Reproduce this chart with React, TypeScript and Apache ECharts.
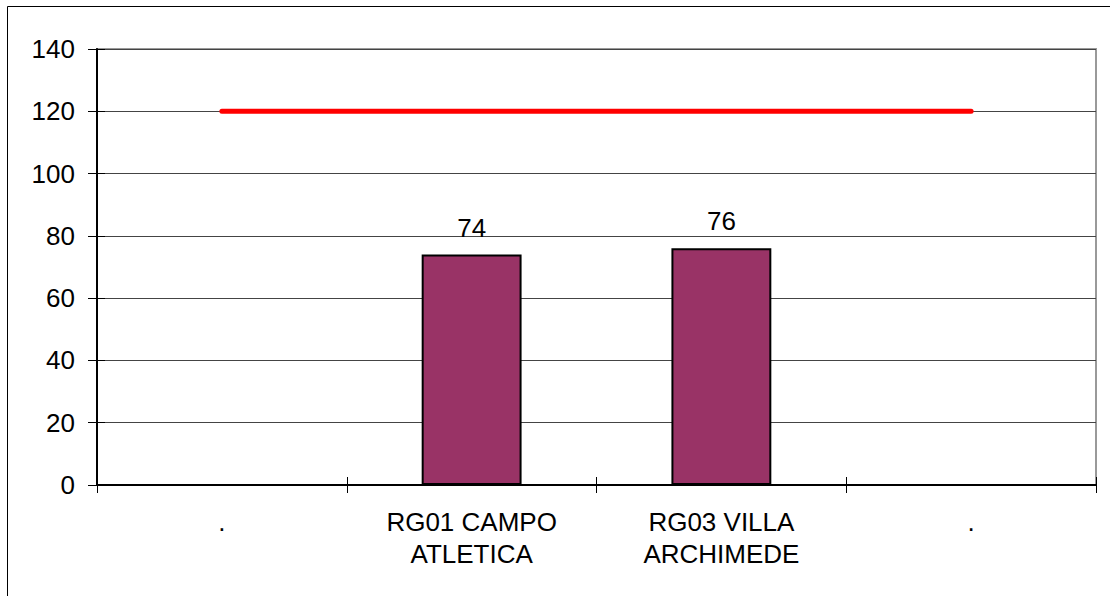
import React, { useEffect, useRef } from "react";
import * as echarts from "echarts";

const categories = [".", "RG01 CAMPO\nATLETICA", "RG03 VILLA\nARCHIMEDE", "."];
const barValues = [null, 74, 76, null];
const limitValues = [120, 120, 120, 120];
const yMin = 0;
const yMax = 140;
const yInterval = 20;

const FONT = "'Liberation Sans', Arial, sans-serif";

export default function App() {
  const ref = useRef<HTMLDivElement>(null);
  useEffect(() => {
    document.body.style.margin = "0";
    const chart = echarts.init(ref.current!, null, { renderer: "svg" });
    chart.setOption({
      animation: false,
      backgroundColor: "#ffffff",
      textStyle: { fontFamily: FONT },
      grid: {
        left: 97,
        right: 14,
        top: 49,
        bottom: 111,
        show: true,
        borderColor: "#999999",
        borderWidth: 2,
        containLabel: false,
      },
      graphic: [
        {
          type: "rect",
          shape: { x: 7.5, y: 6.5, width: 3000, height: 3000 },
          style: { fill: "none", stroke: "#000", lineWidth: 1 },
          silent: true,
        },
      ],
      xAxis: [
        {
          type: "category",
          data: categories,
          position: "bottom",
          axisLine: { show: true, lineStyle: { color: "#000", width: 2 } },
          axisTick: { show: true, inside: false, length: 8, lineStyle: { color: "#000", width: 1 } },
          axisLabel: {
            fontSize: 26,
            color: "#000",
            fontFamily: FONT,
            lineHeight: 32,
            margin: 21,
            interval: 0,
            verticalAlign: "top",
          },
          splitLine: { show: false },
        },
        {
          type: "category",
          data: categories,
          position: "bottom",
          axisLine: { show: false },
          axisTick: { show: true, inside: true, length: 8, lineStyle: { color: "#000", width: 1 } },
          axisLabel: { show: false },
          splitLine: { show: false },
        },
      ],
      yAxis: [
        {
          type: "value",
          min: yMin,
          max: yMax,
          interval: yInterval,
          position: "left",
          axisLine: { show: true, lineStyle: { color: "#000", width: 2 } },
          axisTick: { show: true, inside: false, length: 9, lineStyle: { color: "#000", width: 1 } },
          axisLabel: { fontSize: 26, color: "#000", fontFamily: FONT, margin: 22 },
          splitLine: { show: true, lineStyle: { color: "#444444", width: 1 } },
        },
        {
          type: "value",
          min: yMin,
          max: yMax,
          interval: yInterval,
          position: "left",
          axisLine: { show: false },
          axisTick: { show: true, inside: true, length: 8, lineStyle: { color: "#000", width: 1 } },
          axisLabel: { show: false },
          splitLine: { show: false },
        },
      ],
      series: [
        {
          type: "bar",
          data: barValues,
          xAxisIndex: 0,
          yAxisIndex: 0,
          barWidth: "40%",
          itemStyle: { color: "#993366", borderColor: "#000", borderWidth: 2 },
          label: {
            show: true,
            position: "top",
            distance: 14,
            fontSize: 26,
            color: "#000",
            fontFamily: FONT,
          },
        },
        {
          type: "line",
          data: limitValues,
          xAxisIndex: 0,
          yAxisIndex: 0,
          symbol: "none",
          lineStyle: { color: "#ff0000", width: 5, cap: "round" },
          z: 3,
        },
      ],
    });
    return () => chart.dispose();
  }, []);
  return <div ref={ref} style={{ width: 1110, height: 596 }} />;
}
